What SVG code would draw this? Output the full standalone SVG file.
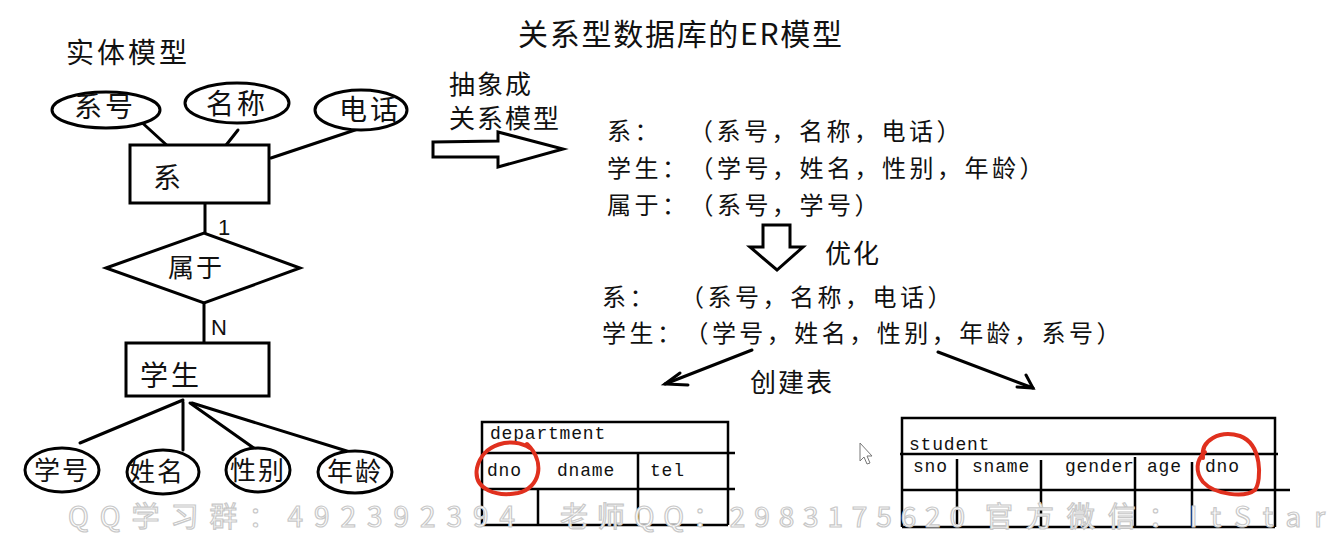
<svg xmlns="http://www.w3.org/2000/svg" width="1336" height="538" viewBox="0 0 1336 538">
<style>
.cn{font-family:"Noto Sans CJK SC","Liberation Sans",sans-serif;fill:#111;text-spacing-trim:space-all}
.t24{font-size:24px;letter-spacing:3.5px}
.t26{font-size:26px;letter-spacing:2px}
.t28{font-size:28px;letter-spacing:3px}
.lat{font-family:"Liberation Sans",sans-serif;font-size:22px;fill:#111}
.mono{font-family:"Liberation Mono","DejaVu Sans Mono",monospace;font-size:18px;fill:#111;letter-spacing:0.8px}
.shp{fill:#fff;stroke:#000;stroke-width:3}
.ln{fill:none;stroke:#000;stroke-width:3;stroke-linecap:round}
.tb{fill:none;stroke:#000;stroke-width:2.5}
.red{fill:none;stroke:#e0301e;stroke-width:4;stroke-linecap:round;stroke-linejoin:round}
.wm{font-family:"Noto Sans CJK SC","Liberation Sans",sans-serif;font-size:28px;fill:#fff;stroke:#c8c8c8;stroke-width:1.2;text-spacing-trim:space-all}
</style>
<rect width="1336" height="538" fill="#fff"/>

<text class="cn" x="518" y="45" font-size="30" textLength="324">关系型数据库的ER模型</text>
<text class="cn t28" x="66" y="63">实体模型</text>

<g id="connectors">
  <line class="ln" x1="137" y1="118" x2="172" y2="150"/>
  <line class="ln" x1="238" y1="130" x2="223" y2="149"/>
  <line class="ln" x1="358" y1="129" x2="271" y2="158"/>
  <line class="ln" x1="205" y1="203" x2="205" y2="234"/>
  <line class="ln" x1="204" y1="303" x2="204" y2="343"/>
  <line class="ln" x1="183" y1="400" x2="80" y2="443"/>
  <line class="ln" x1="183" y1="402" x2="183" y2="450"/>
  <line class="ln" x1="190" y1="403" x2="258" y2="451"/>
  <line class="ln" x1="192" y1="403" x2="350" y2="452"/>
  <line class="ln" x1="752" y1="350" x2="665" y2="384"/>
  <polyline class="ln" points="680,373 665,384 688,385"/>
  <line class="ln" x1="938" y1="352" x2="1033" y2="388"/>
  <polyline class="ln" points="1026,375 1033,388 1017,387"/>
</g>
<text class="lat" x="218" y="235">1</text>
<text class="lat" x="211" y="335">N</text>

<g id="attr-xihao"><ellipse class="shp" cx="106" cy="110" rx="54" ry="18"/><text class="cn t28" x="105" y="117" text-anchor="middle">系号</text></g>
<g id="attr-mingcheng"><ellipse class="shp" cx="237" cy="103" rx="52" ry="20"/><text class="cn t28" x="237" y="114" text-anchor="middle">名称</text></g>
<g id="attr-dianhua"><ellipse class="shp" cx="361" cy="110" rx="46" ry="20"/><text class="cn t28" x="370" y="120" text-anchor="middle">电话</text></g>
<g id="entity-xi"><rect class="shp" x="130" y="145" width="139" height="58"/><text class="cn" font-size="28" x="153" y="188">系</text></g>
<g id="rel-shuyu"><polygon class="shp" points="106,268 204,233 300,268 204,303"/><text class="cn t26" x="168" y="277">属于</text></g>
<g id="entity-xuesheng"><rect class="shp" x="126" y="343" width="143" height="53"/><text class="cn t28" x="140" y="386">学生</text></g>
<g id="attr-xuehao"><ellipse class="shp" cx="62" cy="470" rx="37" ry="22"/><text class="cn t26" x="62" y="480" text-anchor="middle">学号</text></g>
<g id="attr-xingming"><ellipse class="shp" cx="163" cy="472" rx="36" ry="22"/><text class="cn t26" x="157" y="481" text-anchor="middle">姓名</text></g>
<g id="attr-xingbie"><ellipse class="shp" cx="258" cy="470" rx="32" ry="22"/><text class="cn t26" x="258" y="480" text-anchor="middle">性别</text></g>
<g id="attr-nianling"><ellipse class="shp" cx="355" cy="472" rx="37" ry="21"/><text class="cn t26" x="355" y="481" text-anchor="middle">年龄</text></g>

<g id="arrow-abstract">
  <polygon class="shp" points="433,142 498,141 498,132 563,149 498,167 498,157 433,157"/>
  <text class="cn t26" x="449" y="94">抽象成</text>
  <text class="cn t26" x="449" y="128">关系模型</text>
</g>

<g id="relations-1">
  <text class="cn t24" x="607" y="140">系：</text>
  <text class="cn t24" x="689" y="140" textLength="275">（系号，名称，电话）</text>
  <text class="cn t24" x="607" y="177" textLength="440">学生：（学号，姓名，性别，年龄）</text>
  <text class="cn t24" x="607" y="214" textLength="275">属于：（系号，学号）</text>
</g>

<g id="arrow-optimize">
  <polygon class="shp" points="763,225 790,225 790,247 803,247 777,270 750,247 763,247"/>
  <text class="cn t26" x="825" y="263">优化</text>
</g>

<g id="relations-2">
  <text class="cn t24" x="602" y="306">系：</text>
  <text class="cn t24" x="680" y="306" textLength="275">（系号，名称，电话）</text>
  <text class="cn t24" x="602" y="342" textLength="522">学生：（学号，姓名，性别，年龄，系号）</text>
</g>
<text class="cn t26" x="750" y="392">创建表</text>

<g id="table-department">
  <path class="tb" d="M482,525 V422 H728 V525 M482,453 H735 M482,489 H735 M538,489 V525 M638,453 V525 M482,525 H728"/>
  <text class="mono" x="490" y="439">department</text>
  <text class="mono" x="487" y="476">dno</text>
  <text class="mono" x="557" y="476">dname</text>
  <text class="mono" x="650" y="476">tel</text>
  <path class="red" d="M530,448 C512,436 482,444 477,468 C473,490 497,497 518,493 C540,488 546,462 527,444"/>
</g>

<g id="table-student">
  <path class="tb" d="M902,527 V418 H1275 V527 M900,454 H1278 M902,490 H1290 M957,459 V527 M1041,460 V527 M1135,457 V527 M1192,462 V527 M902,527 H1275"/>
  <text class="mono" x="909" y="450">student</text>
  <text class="mono" x="913" y="472">sno</text>
  <text class="mono" x="972" y="472">sname</text>
  <text class="mono" x="1065" y="472">gender</text>
  <text class="mono" x="1147" y="472">age</text>
  <text class="mono" x="1205" y="472">dno</text>
  <path class="red" d="M1203,458 C1200,440 1220,430 1240,436 C1262,444 1262,480 1255,490 C1245,498 1215,495 1203,482 C1195,472 1196,460 1205,452"/>
</g>

<polygon points="860,443 860,461 864,457 867,464 870,463 867,456 872,456" fill="#fff" stroke="#777" stroke-width="1"/>

<g id="watermark">
  <text class="wm" x="68" y="527" textLength="447">QQ学习群：492392394</text>
  <text class="wm" x="560" y="527" textLength="405">老师QQ：2983175620</text>
  <text class="wm" x="985" y="527" textLength="340">官方微信：ItStar</text>
</g>
</svg>
